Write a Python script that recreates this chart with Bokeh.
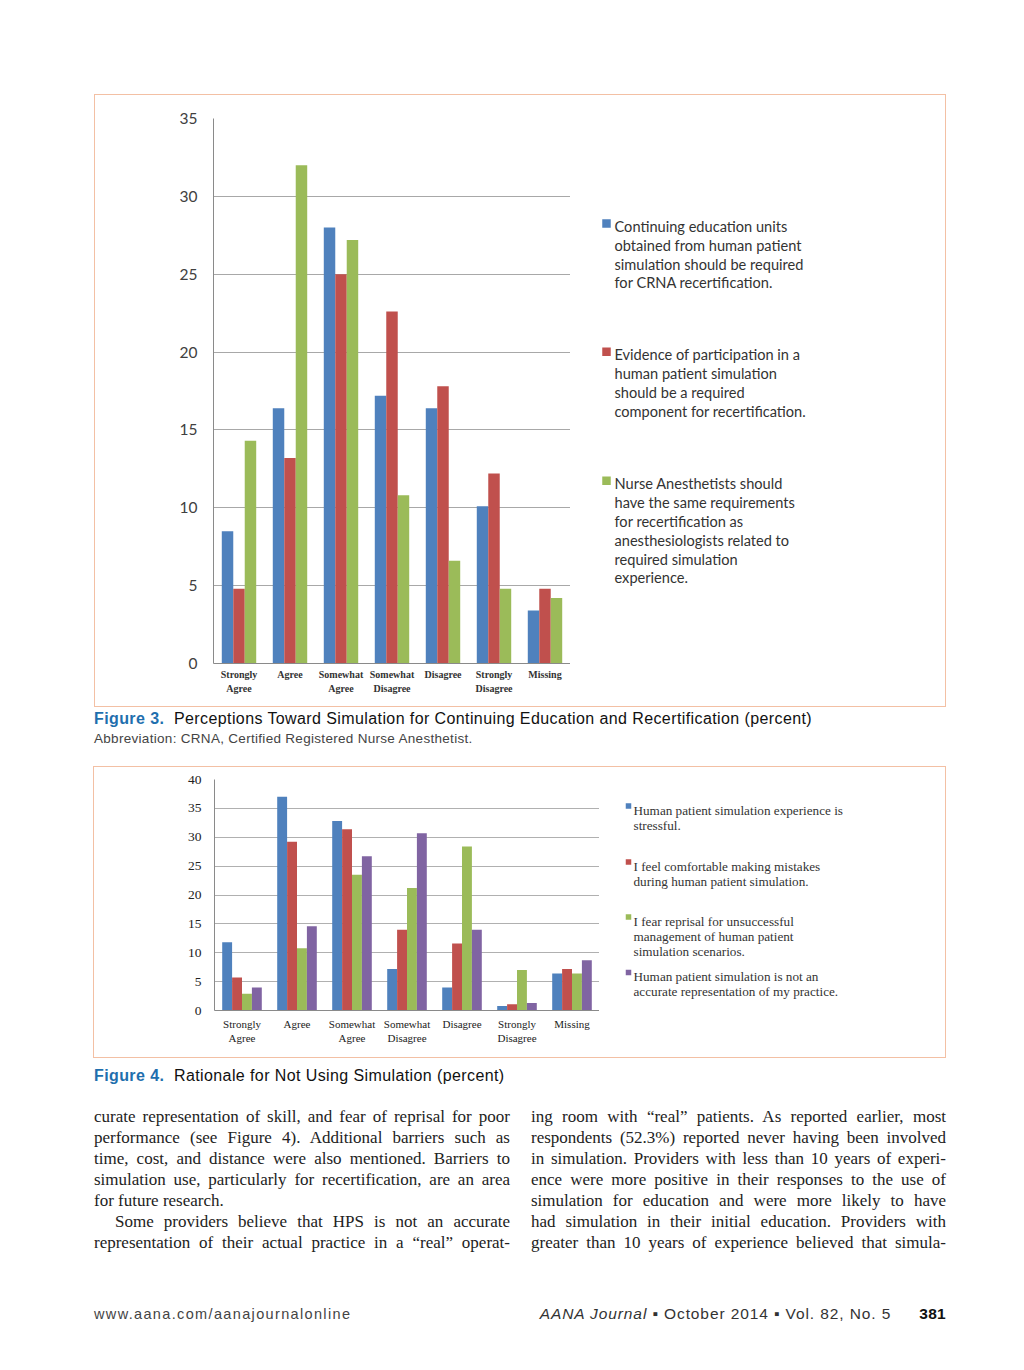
from bokeh.plotting import figure
from bokeh.models import Range1d, Div, Spacer, FixedTicker, ColumnDataSource
from bokeh.core.properties import value
from bokeh.layouts import column, row
from bokeh.embed import file_html
from bokeh.resources import INLINE

# ---------------- data ----------------
categories = ["Strongly\nAgree", "Agree", "Somewhat\nAgree", "Somewhat\nDisagree",
              "Disagree", "Strongly\nDisagree", "Missing"]

# Figure 3 (percent)
fig3_ce_units = [8.5, 16.4, 28.0, 17.2, 16.4, 10.1, 3.4]
fig3_evidence = [4.8, 13.2, 25.0, 22.6, 17.8, 12.2, 4.8]
fig3_same_req = [14.3, 32.0, 27.2, 10.8, 6.6, 4.8, 4.2]
fig3_ticks = [0, 5, 10, 15, 20, 25, 30, 35]
fig3_legend = [
    ["Continuing education units", "obtained from human patient",
     "simulation should be required", "for CRNA recertification."],
    ["Evidence of participation in a", "human patient simulation",
     "should be a required", "component for recertification."],
    ["Nurse Anesthetists should", "have the same requirements",
     "for recertification as", "anesthesiologists related to",
     "required simulation", "experience."],
]

# Figure 4 (percent)
fig4_stressful = [11.8, 37.0, 32.8, 7.2, 4.0, 0.8, 6.4]
fig4_comfortable = [5.7, 29.2, 31.4, 14.0, 11.6, 1.1, 7.2]
fig4_fear = [2.9, 10.8, 23.5, 21.2, 28.4, 7.0, 6.4]
fig4_not_accurate = [4.0, 14.6, 26.7, 30.7, 14.0, 1.3, 8.7]
fig4_ticks = [0, 5, 10, 15, 20, 25, 30, 35, 40]
fig4_legend = [
    ["Human patient simulation experience is", "stressful."],
    ["I feel comfortable making mistakes", "during human patient simulation."],
    ["I fear reprisal for unsuccessful", "management of human patient",
     "simulation scenarios."],
    ["Human patient simulation is not an", "accurate representation of my practice."],
]

BLUE, RED, GREEN, PURPLE = "#4f81bd", "#c0504d", "#9bbb59", "#8064a2"
BORDER = "#f3c0a4"
BSIDE = "1px solid " + BORDER

NCAT = len(categories)
cat_centers = [i + 0.5 for i in range(NCAT)]
cat_overrides = {c: lab for c, lab in zip(cat_centers, categories)}


def style_axes(p, yticks, grid_col):
    p.xgrid.grid_line_color = None
    p.ygrid.grid_line_color = grid_col
    p.yaxis.ticker = FixedTicker(ticks=yticks)
    p.xaxis.ticker = FixedTicker(ticks=cat_centers)
    p.xaxis.major_label_overrides = cat_overrides
    for ax in (p.xaxis, p.yaxis):
        ax.minor_tick_line_color = None
        ax.major_tick_line_color = None
        ax.major_tick_out = 0
        ax.major_tick_in = 0
        ax.axis_line_color = "#8a8a8a"


def legend_fig(width, height, x0, frame_top, frame_bottom, mb_top, mb_bottom, colors,
               legend, first_y, step, text_x, sq_x, sq_size, sq_dy, font, size, color):
    """Blank figure whose data coordinates equal page pixel coordinates
    (its frame is aligned with the neighbouring chart's frame)."""
    f = figure(width=width, height=height, x_range=Range1d(x0, x0 + width),
               y_range=Range1d(frame_bottom, frame_top), output_backend="svg",
               toolbar_location=None, min_border_left=0, min_border_right=0,
               min_border_top=mb_top, min_border_bottom=mb_bottom, outline_line_color=None,
               background_fill_color="white", border_fill_color="white",
               styles={"border-top": BSIDE, "border-bottom": BSIDE, "border-right": BSIDE})
    f.axis.visible = False
    f.grid.visible = False
    tx, ty, tt = [], [], []
    for lines, fy in zip(legend, first_y):
        for i, t in enumerate(lines):
            tx.append(text_x)
            ty.append(fy + i * step)
            tt.append(t)
    f.text(x=tx, y=ty, text=tt, text_font=value(font), text_font_size=size,
           text_color=color, text_baseline="middle", text_align="left")
    f.rect(x=[sq_x] * len(colors), y=[fy + sq_dy for fy in first_y], width=sq_size,
           height=sq_size, fill_color=colors, line_color=None)
    return f


# ---------------- figure 3 ----------------
# box on page: x 94..946, y 94..707 ; frame x 213..570, y 118..663
p3 = figure(width=476, height=613, x_range=Range1d(0, NCAT), y_range=Range1d(0, 35),
            output_backend="svg", toolbar_location=None,
            min_border_left=118, min_border_right=1, min_border_top=23, min_border_bottom=45,
            background_fill_color="white", border_fill_color="white", outline_line_color=None,
            styles={"border-top": BSIDE, "border-bottom": BSIDE, "border-left": BSIDE})

bw3 = 0.225
for off, vals, col in [(-bw3, fig3_ce_units, BLUE), (0, fig3_evidence, RED), (bw3, fig3_same_req, GREEN)]:
    src = ColumnDataSource(dict(x=[c + off for c in cat_centers], top=vals))
    p3.vbar(x="x", top="top", width=bw3, source=src, fill_color=col, line_color=None)

style_axes(p3, fig3_ticks, "#a8a8a8")
p3.yaxis.major_label_standoff = 16
p3.yaxis.major_label_text_font = "Lato"
p3.yaxis.major_label_text_font_size = "15.5px"
p3.yaxis.major_label_text_color = "#404040"
p3.xaxis.major_label_standoff = 5
p3.xaxis.major_label_text_font = "Liberation Serif"
p3.xaxis.major_label_text_font_style = "bold"
p3.xaxis.major_label_text_font_size = "10px"
p3.xaxis.major_label_text_line_height = 1.3
p3.xaxis.major_label_text_color = "#333333"

leg3 = legend_fig(376, 613, 570, 118, 663, 23, 45, [BLUE, RED, GREEN], fig3_legend,
                  [226.0, 354.3, 483.3], 18.8, 614, 606, 8.5, -3.0,
                  "Lato", "14.6px", "#333333")

# ---------------- figure 4 ----------------
# box on page: x 93..946, y 766..1058 ; frame x 214..599, y 779..1010
p4 = figure(width=506, height=292, x_range=Range1d(0, NCAT), y_range=Range1d(0, 40),
            output_backend="svg", toolbar_location=None,
            min_border_left=120, min_border_right=1, min_border_top=12, min_border_bottom=49,
            background_fill_color="white", border_fill_color="white", outline_line_color=None,
            styles={"border-top": BSIDE, "border-bottom": BSIDE, "border-left": BSIDE})

bw4 = 0.18
for off, vals, col in [(-1.5 * bw4, fig4_stressful, BLUE), (-0.5 * bw4, fig4_comfortable, RED),
                       (0.5 * bw4, fig4_fear, GREEN), (1.5 * bw4, fig4_not_accurate, PURPLE)]:
    src = ColumnDataSource(dict(x=[c + off for c in cat_centers], top=vals))
    p4.vbar(x="x", top="top", width=bw4, source=src, fill_color=col, line_color=None)

style_axes(p4, fig4_ticks, "#b0b0b0")
p4.yaxis.major_label_standoff = 13
p4.yaxis.major_label_text_font = "Liberation Serif"
p4.yaxis.major_label_text_font_size = "13.5px"
p4.yaxis.major_label_text_color = "#222222"
p4.xaxis.major_label_standoff = 7
p4.xaxis.major_label_text_font = "Liberation Serif"
p4.xaxis.major_label_text_font_size = "11px"
p4.xaxis.major_label_text_line_height = 1.2
p4.xaxis.major_label_text_color = "#222222"

leg4 = legend_fig(347, 292, 599, 779, 1010, 12, 49, [BLUE, RED, GREEN, PURPLE], fig4_legend,
                  [809.5, 865.5, 920.5, 976.0], 15.0, 633, 628.0, 5.5, -4.0,
                  "Liberation Serif", "13.2px", "#333333")

# ---------------- page text ----------------
SANS = "'Liberation Sans', Arial, sans-serif"
SERIF = "'Liberation Serif', 'Times New Roman', serif"
FIGBLUE = "#1f6fae"

cap3 = Div(width=860, height=59, margin=(0, 0, 0, 0), text=(
    f"<div style=\"width:860px;font-family:{SANS};font-size:16px;letter-spacing:0.4px;line-height:19px;padding-top:2px;color:#111;white-space:nowrap;\">"
    f"<span style=\"color:{FIGBLUE};font-weight:bold;\">Figure 3.</span>&nbsp; Perceptions Toward Simulation for "
    "Continuing Education and Recertification (percent)<br>"
    "<span style=\"font-size:13.5px;letter-spacing:0.3px;color:#444;\">Abbreviation: CRNA, Certified Registered Nurse Anesthetist.</span>"
    "</div>"))

cap4 = Div(width=860, height=48, margin=(0, 0, 0, 0), text=(
    f"<div style=\"width:860px;font-family:{SANS};font-size:16px;letter-spacing:0.4px;line-height:19px;padding-top:8px;color:#111;white-space:nowrap;\">"
    f"<span style=\"color:{FIGBLUE};font-weight:bold;\">Figure 4.</span>&nbsp; Rationale for Not Using Simulation (percent)"
    "</div>"))

left_lines = [
    ("curate representation of skill, and fear of reprisal for poor", True, False),
    ("performance (see Figure 4). Additional barriers such as", True, False),
    ("time, cost, and distance were also mentioned. Barriers to", True, False),
    ("simulation use, particularly for recertification, are an area", True, False),
    ("for future research.", False, False),
    ("Some providers believe that HPS is not an accurate", True, True),
    ("representation of their actual practice in a “real” operat-", True, False),
]
right_lines = [
    ("ing room with “real” patients. As reported earlier, most", True, False),
    ("respondents (52.3%) reported never having been involved", True, False),
    ("in simulation. Providers with less than 10 years of experi-", True, False),
    ("ence were more positive in their responses to the use of", True, False),
    ("simulation for education and were more likely to have", True, False),
    ("had simulation in their initial education. Providers with", True, False),
    ("greater than 10 years of experience believed that simula-", True, False),
]


def body_html(lines, w):
    out = [f"<div style=\"width:{w}px;font-family:{SERIF};font-size:17px;line-height:21px;color:#222;\">"]
    for t, just, indent in lines:
        st = "text-align:justify;text-align-last:justify;" if just else "text-align:left;"
        if indent:
            st += "text-indent:21px;"
        out.append(f"<div style=\"{st}\">{t}</div>")
    out.append("</div>")
    return "".join(out)


body_left = Div(width=416, height=147, margin=(0, 0, 0, 0), text=body_html(left_lines, 416))
body_right = Div(width=415, height=147, margin=(0, 0, 0, 0), text=body_html(right_lines, 415))

foot_left = Div(width=430, height=20, margin=(0, 0, 0, 0), text=(
    f"<div style=\"width:430px;font-family:{SANS};font-size:14.5px;line-height:20px;color:#444;letter-spacing:1.35px;white-space:nowrap;\">"
    "www.aana.com/aanajournalonline</div>"))
foot_right = Div(width=422, height=20, margin=(0, 0, 0, 0), text=(
    f"<div style=\"width:422px;font-family:{SANS};font-size:15.5px;line-height:20px;color:#333;letter-spacing:0.9px;text-align:right;white-space:nowrap;\">"
    "<i>AANA Journal</i> ▪ October 2014 ▪ Vol. 82, No. 5"
    "<b style=\"margin-left:28px;letter-spacing:0.3px;color:#111;\">381</b></div>"))

page = column(
    Spacer(width=1000, height=94),
    row(Spacer(width=94, height=613), p3, leg3),
    row(Spacer(width=94, height=59), cap3),
    row(Spacer(width=93, height=292), p4, leg4),
    row(Spacer(width=94, height=48), cap4),
    row(Spacer(width=94, height=147), body_left, Spacer(width=21, height=147), body_right),
    Spacer(width=1000, height=51),
    row(Spacer(width=94, height=20), foot_left, foot_right),
)

open("out.html", "w").write(file_html(page, INLINE))
